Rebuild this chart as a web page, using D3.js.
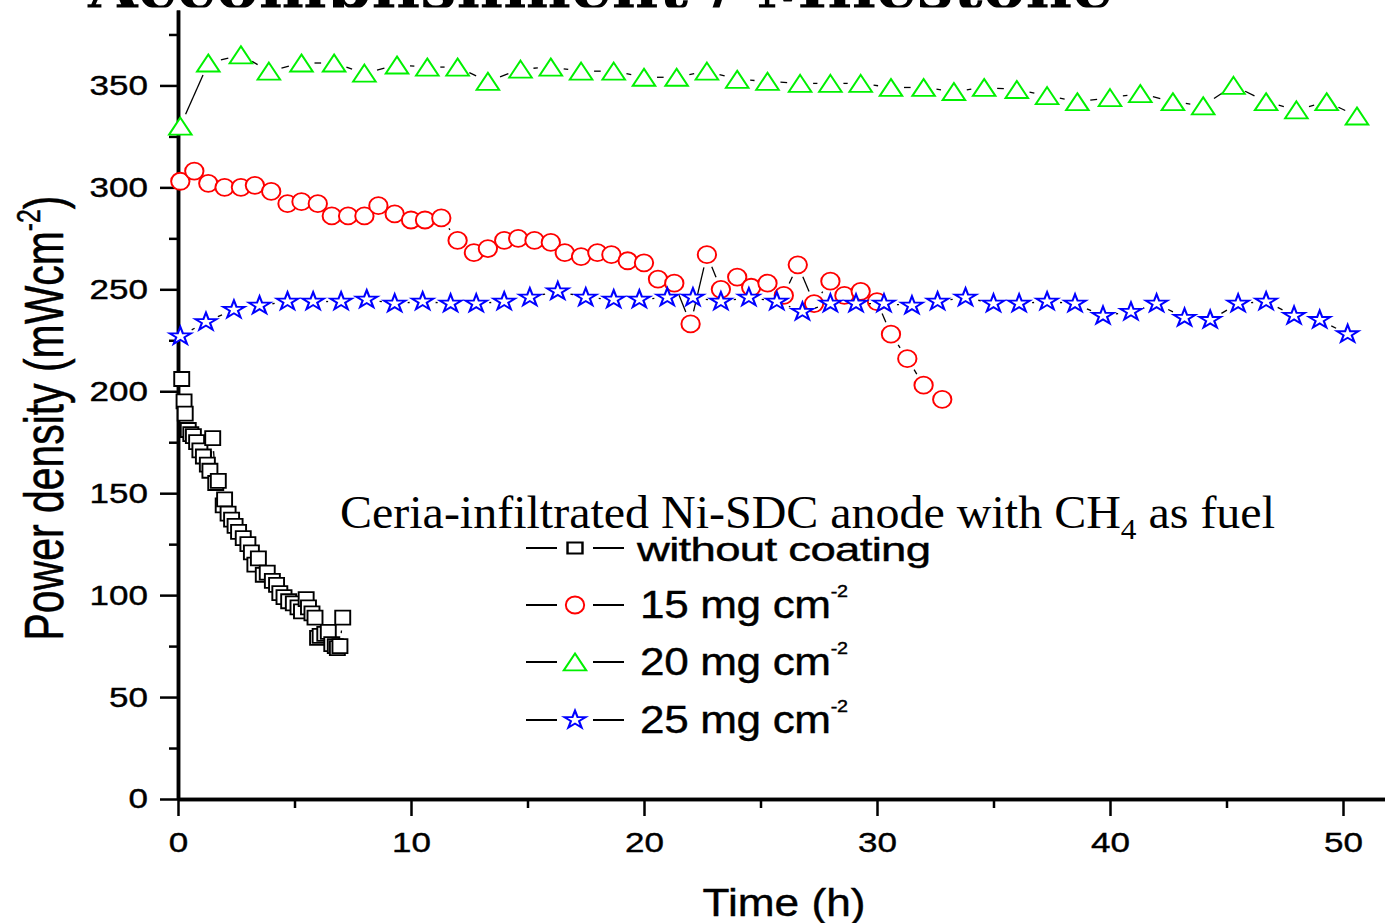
<!DOCTYPE html>
<html>
<head>
<meta charset="utf-8">
<script src="https://cdn.jsdelivr.net/npm/d3@7"></script>
<style>
body { margin: 0; background: #fff; }
svg { display: block; }
</style>
</head>
<body>
<script>
// series data: time (h) and power density (mW/cm2)
var bareTime = [0.16, 0.26, 0.31, 0.44, 0.55, 0.66, 0.80, 0.94, 1.09, 1.26, 1.37, 1.49, 1.62, 1.73, 1.94, 2.00, 2.15, 2.30, 2.45, 2.60, 2.80, 3.00, 3.15, 3.30, 3.45, 3.66, 3.83, 4.05, 4.23, 4.37, 4.55, 4.75, 4.95, 5.15, 5.30, 5.50, 5.60, 5.75, 5.88, 5.99, 6.10, 6.30, 6.45, 6.60, 6.75, 6.84, 6.95, 7.07];
var bareVal = [206, 195, 189, 181, 179, 178, 175, 171, 168, 164, 161, 177, 155, 156, 144, 147, 140, 137, 134, 131, 128, 125, 121, 115, 118, 110, 111, 107, 105, 101, 99, 97, 96, 94, 92, 98, 94, 91, 89, 79, 80, 81, 82, 76, 75, 74, 75, 89];

var mg15Time = [0.1, 0.7, 1.3, 2.0, 2.7, 3.3, 4.0, 4.7, 5.3, 6.0, 6.6, 7.3, 8.0, 8.6, 9.3, 10.0, 10.6, 11.3, 12.0, 12.7, 13.3, 14.0, 14.6, 15.3, 16.0, 16.6, 17.3, 18.0, 18.6, 19.3, 20.0, 20.6, 21.3, 22.0, 22.7, 23.3, 24.0, 24.6, 25.3, 26.0, 26.6, 27.3, 28.0, 28.6, 29.3, 30.0, 30.6, 31.3, 32.0, 32.8];
var mg15Val = [303, 308, 302, 300, 300, 301, 298, 292, 293, 292, 286, 286, 286, 291, 287, 284, 284, 285, 274, 268, 270, 274, 275, 274, 273, 268, 266, 268, 267, 264, 263, 255, 253, 233, 267, 250, 256, 251, 253, 247, 262, 243, 254, 247, 249, 244, 228, 216, 203, 196];

var mg20Time = [0.1, 1.3, 2.7, 3.9, 5.3, 6.7, 8.0, 9.4, 10.7, 12.0, 13.3, 14.7, 16.0, 17.3, 18.7, 20.0, 21.4, 22.7, 24.0, 25.3, 26.7, 28.0, 29.3, 30.6, 32.0, 33.3, 34.6, 36.0, 37.3, 38.6, 40.0, 41.3, 42.7, 44.0, 45.3, 46.7, 48.0, 49.3, 50.6];
var mg20Val = [330, 361, 365, 357, 361, 361, 356, 360, 359, 359, 352, 358, 359, 357, 357, 354, 354, 357, 353, 352, 351, 351, 351, 349, 349, 347, 349, 348, 345, 342, 344, 346, 342, 340, 350, 342, 338, 342, 335];

var mg25Time = [0.1, 1.2, 2.4, 3.5, 4.7, 5.8, 7.0, 8.1, 9.3, 10.5, 11.7, 12.8, 14.0, 15.1, 16.3, 17.5, 18.7, 19.8, 21.0, 22.1, 23.3, 24.5, 25.7, 26.8, 28.0, 29.1, 30.3, 31.5, 32.6, 33.8, 35.0, 36.1, 37.3, 38.5, 39.7, 40.9, 42.0, 43.2, 44.3, 45.5, 46.7, 47.9, 49.0, 50.2];
var mg25Val = [227, 234, 240, 242, 244, 244, 244, 245, 243, 244, 243, 243, 244, 246, 249, 246, 245, 245, 246, 246, 244, 246, 244, 239, 243, 243, 243, 242, 244, 246, 243, 243, 244, 243, 237, 239, 243, 236, 235, 243, 244, 237, 235, 228];

var seriesNames = ["without coating", "15 mg cm", "20 mg cm", "25 mg cm"];
var xTicks = [0, 10, 20, 30, 40, 50];
var xMinor = [5, 15, 25, 35, 45];
var yTicks = [0, 50, 100, 150, 200, 250, 300, 350];
var yMinor = [25, 75, 125, 175, 225, 275, 325, 375];

var width = 1385,
	height = 923;
var sans = "'Liberation Sans', Arial, sans-serif";

var svg = d3.select("body")
	.append("svg")
	.attr("width", width)
	.attr("height", height)
	.style("font-family", sans);

var x = d3.scaleLinear().domain([0, 52]).range([178, 1389.6]);
var y = d3.scaleLinear().domain([0, 387]).range([799, 10]);

//page title, only its foot shows above the chart
svg.append("clipPath").attr("id", "topclip")
	.append("rect").attr("x", 0).attr("y", 0).attr("width", width).attr("height", 7.5);
svg.append("text")
	.attr("clip-path", "url(#topclip)")
	.attr("x", 88)
	.attr("y", 7.5)
	.attr("textLength", 1025)
	.attr("lengthAdjust", "spacingAndGlyphs")
	.style("font-family", "'DejaVu Serif', serif")
	.style("font-weight", "bold")
	.style("font-size", "62px")
	.text("Accomplishment / Milestone");

//axes
var xAxis = svg.append("g").attr("transform", "translate(0," + y(0) + ")")
	.call(d3.axisBottom(x).tickValues(xTicks).tickSize(17).tickPadding(16).tickSizeOuter(0).tickFormat(d3.format("d")));
var xMin = svg.append("g").attr("transform", "translate(0," + y(0) + ")")
	.call(d3.axisBottom(x).tickValues(xMinor).tickSize(9).tickSizeOuter(0).tickFormat(""));
var yAxis = svg.append("g").attr("transform", "translate(" + x(0) + ",0)")
	.call(d3.axisLeft(y).tickValues(yTicks).tickSize(18).tickSizeOuter(0).tickFormat(d3.format("d")));
var yMin = svg.append("g").attr("transform", "translate(" + x(0) + ",0)")
	.call(d3.axisLeft(y).tickValues(yMinor).tickSize(9).tickSizeOuter(0).tickFormat(""));

[xAxis, xMin, yAxis, yMin].forEach(function(g){
	g.attr("font-family", sans);
	g.select(".domain").attr("stroke", "#000").attr("stroke-width", 3.5);
	g.selectAll(".tick line").attr("stroke", "#000").attr("stroke-width", 2.5);
});
xAxis.selectAll("text")
	.attr("fill", "#000")
	.attr("stroke", "#000")
	.attr("stroke-width", 0.4)
	.style("font-size", "28px")
	.attr("transform", "scale(1.25,1)");
yAxis.selectAll("text")
	.attr("fill", "#000")
	.attr("stroke", "#000")
	.attr("stroke-width", 0.4)
	.style("font-size", "28px")
	.attr("x", -30 / 1.25)
	.attr("transform", "scale(1.25,1)");

//axis titles
svg.append("text")
	.attr("x", 784)
	.attr("y", 916)
	.attr("text-anchor", "middle")
	.attr("textLength", 163)
	.attr("lengthAdjust", "spacingAndGlyphs")
	.attr("stroke", "#000")
	.attr("stroke-width", 0.4)
	.style("font-size", "39px")
	.text("Time (h)");

var yTitle = svg.append("text")
	.attr("transform", "translate(63,418) scale(1.3,1) rotate(-90)")
	.attr("text-anchor", "middle")
	.attr("textLength", 445)
	.attr("lengthAdjust", "spacingAndGlyphs")
	.attr("stroke", "#000")
	.attr("stroke-width", 0.4)
	.style("font-size", "43px");
yTitle.append("tspan").text("Power density (mWcm");
yTitle.append("tspan").attr("dy", -18).style("font-size", "26px").text("-2");
yTitle.append("tspan").attr("dy", 18).text(")");

//marker shapes
var markers = [
	{ time: bareTime, val: bareVal, color: "#000000", sym: d3.symbolSquare, size: 196, sx: 1.07, dy: 0, lsize: 121, lsx: 1.36 },
	{ time: mg15Time, val: mg15Val, color: "#ff0000", sym: d3.symbolCircle, size: 227, sx: 1.08, dy: 0, lsize: 227, lsx: 1.08 },
	{ time: mg20Time, val: mg20Val, color: "#00f000", sym: d3.symbolTriangle, size: 167, sx: 1.15, dy: 2.8, lsize: 167, lsx: 1.15 },
	{ time: mg25Time, val: mg25Val, color: "#0000ff", sym: d3.symbolStar, size: 99, sx: 1.2, dy: 0, lsize: 99, lsx: 1.2 }
];

var gap = 13;
markers.forEach(function(s){
	var pts = s.time.map(function(t, i){ return [x(t), y(s.val[i])]; });
	var segs = [];
	for (var i = 1; i < pts.length; i++) {
		var dx = pts[i][0] - pts[i-1][0], dy = pts[i][1] - pts[i-1][1];
		var len = Math.sqrt(dx * dx + dy * dy);
		if (len > 2 * gap) {
			segs.push([pts[i-1][0] + dx / len * gap, pts[i-1][1] + dy / len * gap,
				pts[i][0] - dx / len * gap, pts[i][1] - dy / len * gap]);
		}
	}
	svg.append("g").selectAll("line")
		.data(segs)
		.enter()
		.append("line")
		.attr("x1", function(d){ return d[0]; })
		.attr("y1", function(d){ return d[1]; })
		.attr("x2", function(d){ return d[2]; })
		.attr("y2", function(d){ return d[3]; })
		.attr("stroke", "#000")
		.attr("stroke-width", 1.3);

	svg.append("g").selectAll("path")
		.data(pts)
		.enter()
		.append("path")
		.attr("d", d3.symbol().type(s.sym).size(s.size))
		.attr("transform", function(d){ return "translate(" + d[0] + "," + (d[1] + s.dy) + ") scale(" + s.sx + ",1)"; })
		.attr("fill", "#fff")
		.attr("stroke", s.color)
		.attr("stroke-width", 1.8);
});

//legend
svg.append("text")
	.attr("x", 340)
	.attr("y", 528)
	.attr("textLength", 935)
	.attr("lengthAdjust", "spacingAndGlyphs")
	.style("font-family", "'Liberation Serif', 'Times New Roman', serif")
	.style("font-size", "46px")
	.call(function(t){
		t.append("tspan").text("Ceria-infiltrated Ni-SDC anode with CH");
		t.append("tspan").attr("dy", 11).style("font-size", "30px").text("4");
		t.append("tspan").attr("dy", -11).text(" as fuel");
	});

var legendY = [548, 605, 662, 720];
var legend = svg.append("g").selectAll("g")
	.data(markers)
	.enter()
	.append("g")
	.attr("transform", function(d, i){ return "translate(0," + legendY[i] + ")"; });
legend.append("line").attr("x1", 526).attr("x2", 557).attr("stroke", "#000").attr("stroke-width", 2);
legend.append("line").attr("x1", 593).attr("x2", 624).attr("stroke", "#000").attr("stroke-width", 2);
legend.append("path")
	.attr("d", function(d){ return d3.symbol().type(d.sym).size(d.lsize)(); })
	.attr("transform", function(d){ return "translate(575," + d.dy + ") scale(" + d.lsx + ",1)"; })
	.attr("fill", "#fff")
	.attr("stroke", function(d){ return d.color; })
	.attr("stroke-width", 1.8);
legend.append("text")
	.attr("transform", function(d, i){
		return i === 0 ? "translate(637,12.7) scale(1.38,1)" : "translate(640,13.3) scale(1.16,1)";
	})
	.attr("stroke", "#000")
	.attr("stroke-width", 0.4)
	.style("font-size", function(d, i){ return i === 0 ? "33px" : "38px"; })
	.style("letter-spacing", function(d, i){ return i === 0 ? "-0.5px" : "-0.3px"; })
	.each(function(d, i){
		var t = d3.select(this);
		t.append("tspan").text(seriesNames[i]);
		if (i > 0) t.append("tspan").attr("dy", -21).style("font-size", "17px").text("-2");
	});
</script>
</body>
</html>
